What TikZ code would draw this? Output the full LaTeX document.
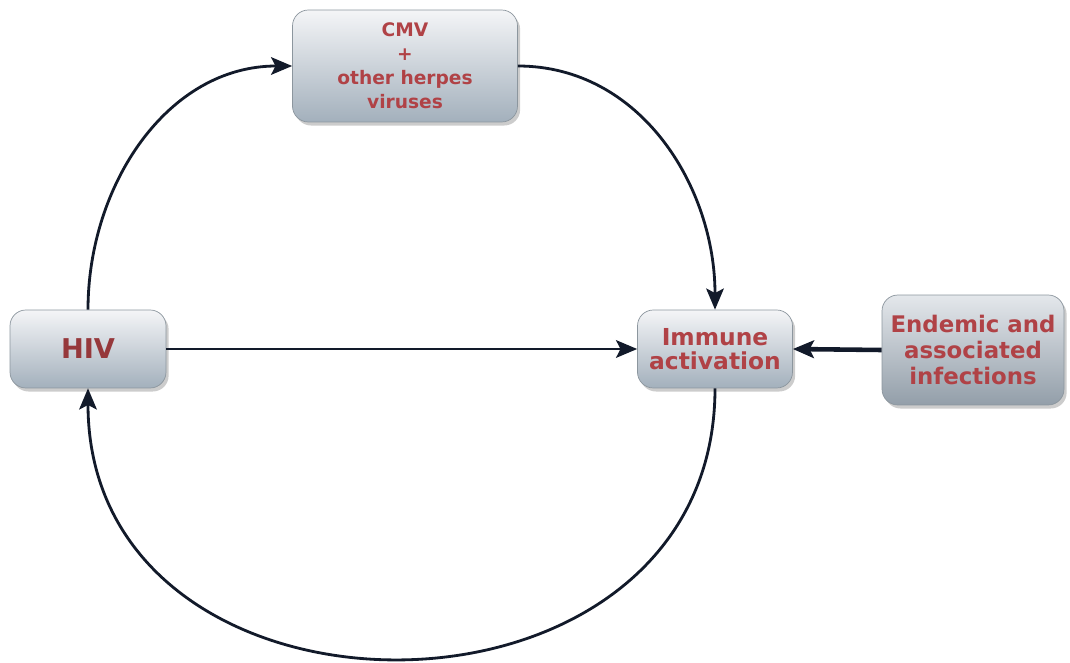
\documentclass[tikz,border=0pt]{standalone}
\usepackage{fontspec}
\setmainfont{DejaVu Sans}
\usetikzlibrary{arrows.meta,shadows}
\definecolor{txtred}{RGB}{176,66,70}
\definecolor{arrowc}{RGB}{18,26,42}
\definecolor{boxtop}{RGB}{244,245,247}
\definecolor{boxbot}{RGB}{163,176,188}
\definecolor{boxline}{RGB}{140,150,158}
\begin{document}
\begin{tikzpicture}[x=0.02cm, y=-0.02cm,
  every node/.style={font=\bfseries, text=txtred, align=center},
  bx/.style={draw=boxline, line width=0.4pt, rounded corners=9pt, top color=boxtop, bottom color=boxbot,
    drop shadow={shadow xshift=1.5pt, shadow yshift=-2pt, opacity=0.4}, inner sep=2pt},
  arr/.style={-{Stealth[length=12pt,width=10pt,inset=2.5pt]}, line width=1.6pt, draw=arrowc}]
\useasboundingbox (0,0) rectangle (1070,662);
\node[bx,minimum width=4.5cm,minimum height=2.24cm,font=\bfseries\fontsize{10.6}{13.6}\selectfont] (cmv) at (405,66) {CMV\\+\\other herpes\\viruses};
\node[bx,minimum width=3.12cm,minimum height=1.56cm,font=\bfseries\fontsize{15.5}{18}\selectfont,text=txtred!85!black] (hiv) at (88,349) {HIV};
\node[bx,minimum width=3.1cm,minimum height=1.56cm,font=\bfseries\fontsize{13.3}{13.8}\selectfont] (imm) at (715,349) {Immune\\activation};
\node[bx,minimum width=3.64cm,minimum height=2.2cm,top color=boxtop!80!boxbot,bottom color=boxbot!90!black,font=\bfseries\fontsize{13}{14.7}\selectfont] (end) at (973,350) {Endemic and\\associated\\infections};
% connectors
\draw[arr] (hiv.north) to[out=90,in=180] (cmv.west);
\draw[arr] (cmv.east) to[out=0,in=90] (imm.north);
\draw[arr] (hiv.east) -- (imm.west);
\draw[arr,line width=2.6pt] (end.west) -- (imm.east);
\draw[arr] (imm.south) to[out=-90,in=-90,looseness=1.47] (hiv.south);
\end{tikzpicture}
\end{document}
